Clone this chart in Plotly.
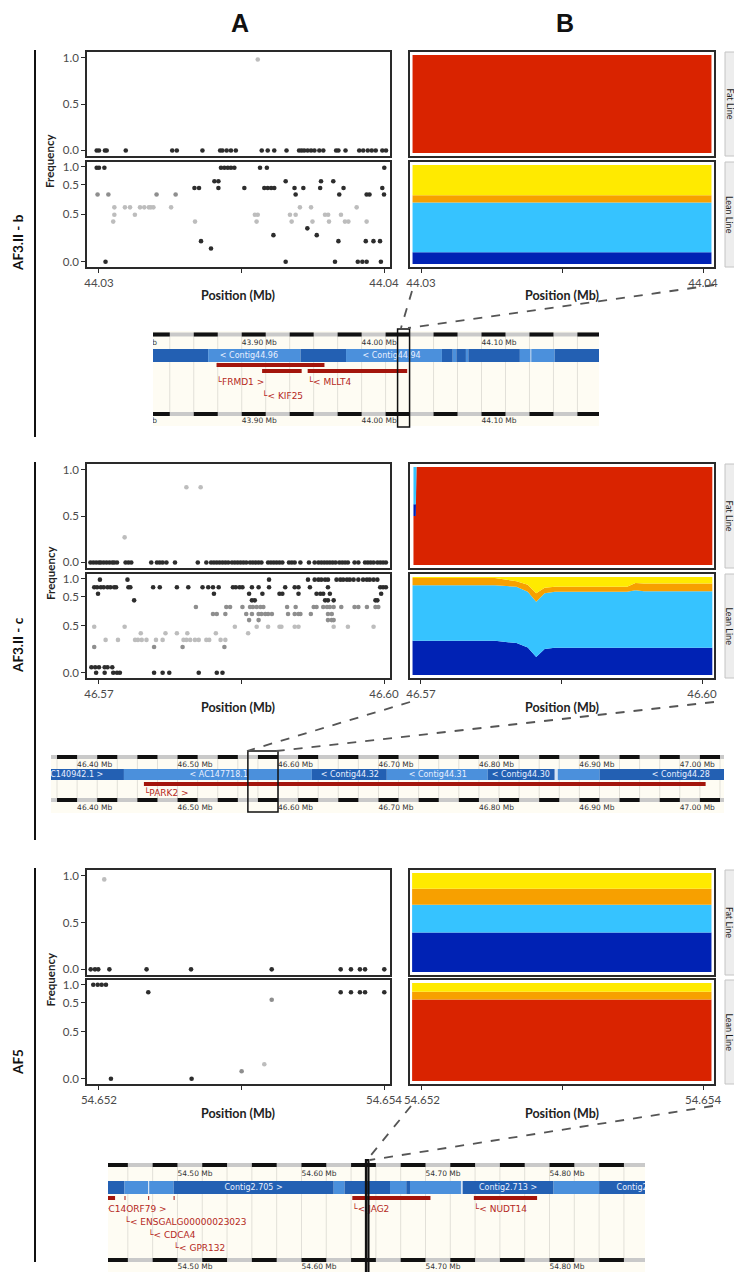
import plotly.graph_objects as go

W, H = 734, 1272

# ====================== DATA ======================
# Panel A: SNP allele frequency, grouped into rows of equal frequency.
# shade: 0 = dark, 1 = mid grey, 2 = light grey
s1_fat_levels = [0.0, 0.98]
s1_fat_shades = [0, 2]
s1_fat_pos = [
    [44.02992, 44.03000, 44.03021, 44.03027, 44.03094, 44.03257, 44.03273, 44.03363,
     44.03425, 44.03433, 44.03448, 44.03463, 44.03480, 44.03571, 44.03592, 44.03615,
     44.03658, 44.03702, 44.03711, 44.03720, 44.03732, 44.03744, 44.03756, 44.03773,
     44.03787, 44.03832, 44.03840, 44.03865, 44.03913, 44.03927, 44.03943, 44.03957,
     44.03971, 44.03994, 44.04007],
    [44.03557]]

s1_lean_levels = [0.99, 0.847, 0.776, 0.708, 0.708, 0.573, 0.495, 0.423, 0.352, 0.28, 0.217, 0.139, 0.0]
s1_lean_shades = [0, 0, 0, 0, 1, 2, 2, 2, 0, 0, 0, 0, 0]
s1_lean_pos = [
    [44.02992, 44.03000, 44.03019, 44.03428, 44.03440, 44.03452, 44.03463, 44.03475, 44.03565, 44.03589, 44.04001],
    [44.03405, 44.03419, 44.03655, 44.03779, 44.03822],
    [44.03335, 44.03351, 44.03419, 44.03510, 44.03580, 44.03592, 44.03604, 44.03615, 44.03686, 44.03717,
     44.03776, 44.03858, 44.03994],
    [44.03690, 44.03843, 44.03939, 44.03949, 44.04000],
    [44.02995, 44.03033, 44.03202, 44.03269],
    [44.03054, 44.03091, 44.03109, 44.03144, 44.03159, 44.03175, 44.03182, 44.03191, 44.03253, 44.03705,
     44.03744, 44.03904],
    [44.03054, 44.03126, 44.03547, 44.03557, 44.03670, 44.03690, 44.03793, 44.03804, 44.03849],
    [44.03050, 44.03337, 44.03553, 44.03676, 44.03749, 44.03807, 44.03863, 44.03875, 44.03939],
    [44.03731],
    [44.03612, 44.03764],
    [44.03358, 44.03840, 44.03936, 44.03963, 44.03986],
    [44.03393],
    [44.03023, 44.03655, 44.03828, 44.03908, 44.03924, 44.03939, 44.03989]]

s2_fat_levels = [0.0, 0.27, 0.81]
s2_fat_shades = [0, 2, 2]
s2_fat_pos = [
    [46.5691, 46.5694, 46.5697, 46.5700, 46.5702, 46.5705, 46.5708, 46.5711, 46.5714, 46.5716, 46.5719,
     46.5728, 46.5731, 46.5734, 46.5755, 46.5761, 46.5764, 46.5767, 46.5771, 46.5780, 46.5804, 46.5813,
     46.5818, 46.5821, 46.5824, 46.5827, 46.5830, 46.5833, 46.5836, 46.5840, 46.5843, 46.5846, 46.5849,
     46.5852, 46.5855, 46.5859, 46.5862, 46.5865, 46.5868, 46.5871, 46.5878, 46.5881, 46.5884, 46.5887,
     46.5890, 46.5893, 46.5900, 46.5903, 46.5906, 46.5912, 46.5921, 46.5927, 46.5931, 46.5934, 46.5937,
     46.5940, 46.5943, 46.5946, 46.5949, 46.5953, 46.5956, 46.5959, 46.5962, 46.5969, 46.5973, 46.5980,
     46.5983, 46.5986, 46.5989, 46.5993, 46.5996, 46.5999, 46.6002],
    [46.5727],
    [46.5792, 46.5807]]

s2_lean_levels = [0.99, 0.91, 0.84, 0.77, 0.70, 0.625, 0.56, 0.49, 0.42, 0.35, 0.275, 0.06, 0.0]
s2_lean_shades = [0, 0, 0, 0, 1, 1, 1, 2, 2, 2, 1, 0, 0]
s2_lean_pos = [
    [46.5701, 46.5730, 46.5879, 46.5920, 46.5927, 46.5931, 46.5934, 46.5938, 46.5941, 46.5950, 46.5954,
     46.5957, 46.5961, 46.5964, 46.5968, 46.5973, 46.5978, 46.5982, 46.5985, 46.5989, 46.5993],
    [46.5695, 46.5698, 46.5702, 46.5705, 46.5709, 46.5712, 46.5716, 46.5718, 46.5731, 46.5733, 46.5757,
     46.5764, 46.5782, 46.5794, 46.5809, 46.5815, 46.5820, 46.5826, 46.5841, 46.5844, 46.5848, 46.5851,
     46.5861, 46.5868, 46.5879, 46.5896, 46.5906, 46.5910, 46.5922, 46.5941, 46.5996, 46.5999, 46.6002],
    [46.5699, 46.5821, 46.5858, 46.5872, 46.5890, 46.5893, 46.5910, 46.5929, 46.5933, 46.5936, 46.5943, 46.5997],
    [46.5737, 46.5861, 46.5864, 46.5938, 46.5941, 46.5947, 46.5991, 46.5993],
    [46.5802, 46.5834, 46.5838, 46.5851, 46.5859, 46.5862, 46.5866, 46.5870, 46.5873, 46.5898, 46.5907,
     46.5926, 46.5929, 46.5936, 46.5940, 46.5943, 46.5947, 46.5955, 46.5969, 46.5973, 46.5982, 46.5991, 46.5994],
    [46.5820, 46.5824, 46.5833, 46.5855, 46.5861, 46.5868, 46.5871, 46.5875, 46.5878, 46.5882, 46.5899,
     46.5906, 46.5910, 46.5912, 46.5923, 46.5941, 46.5945],
    [46.5858, 46.5868, 46.5941, 46.5945, 46.5947],
    [46.5695, 46.5727, 46.5843, 46.5866, 46.5878, 46.5890, 46.5892, 46.5906, 46.5910, 46.5947, 46.5962, 46.5989],
    [46.5744, 46.5770, 46.5782, 46.5793, 46.5823, 46.5857],
    [46.5707, 46.5720, 46.5738, 46.5741, 46.5745, 46.5750, 46.5760, 46.5767, 46.5789, 46.5792, 46.5796,
     46.5801, 46.5805, 46.5813, 46.5816, 46.5828, 46.5833],
    [46.5695, 46.5758, 46.5788, 46.5832],
    [46.5692, 46.5696, 46.5700, 46.5706, 46.5709, 46.5714],
    [46.5697, 46.5706, 46.5715, 46.5719, 46.5722, 46.5758, 46.5767, 46.5774, 46.5805, 46.5824, 46.5830]]

s3_fat_levels = [0.0, 0.96]
s3_fat_shades = [0, 2]
s3_fat_pos = [
    [54.651942, 54.651972, 54.651995, 54.652073, 54.652334, 54.652646, 54.653212, 54.653696,
     54.653768, 54.653831, 54.653867, 54.654002],
    [54.652037]]

s3_lean_levels = [1.0, 0.92, 0.84, 0.155, 0.08, 0.0]
s3_lean_shades = [0, 0, 1, 2, 1, 0]
s3_lean_pos = [
    [54.651960, 54.651991, 54.652019, 54.652049],
    [54.652346, 54.653696, 54.653768, 54.653831, 54.653867, 54.654002],
    [54.653212],
    [54.653160],
    [54.653001],
    [54.652084, 54.652650]]

# Panel B: ancestry proportions, components stacked bottom -> top
components = ["red", "dark blue", "light blue", "orange", "yellow"]
s1_b_pos = [44.0297, 44.0403]
s1_fat_mix = [[1, 1], [0, 0], [0, 0], [0, 0], [0, 0]]
s1_lean_mix = [[0, 0], [0.118, 0.118], [0.502, 0.502], [0.074, 0.074], [0.306, 0.306]]

s2_b_pos_fat = [46.5692, 46.56945, 46.56952, 46.6011]
s2_fat_mix = [[0.50, 0.50, 1, 1], [0.12, 0.12, 0, 0], [0.38, 0.38, 0, 0], [0, 0, 0, 0], [0, 0, 0, 0]]
s2_b_pos_lean = [46.5691, 46.5779, 46.5802, 46.5814, 46.5823, 46.5832, 46.5843, 46.5920, 46.5929, 46.5938, 46.6011]
s2_lean_mix = [
    [0, 0, 0, 0, 0, 0, 0, 0, 0, 0, 0],
    [0.349, 0.349, 0.326, 0.280, 0.183, 0.265, 0.278, 0.278, 0.278, 0.278, 0.278],
    [0.567, 0.567, 0.573, 0.570, 0.563, 0.570, 0.570, 0.570, 0.587, 0.577, 0.577],
    [0.074, 0.074, 0.058, 0.070, 0.089, 0.055, 0.051, 0.051, 0.074, 0.078, 0.078],
    [0.010, 0.010, 0.043, 0.080, 0.165, 0.110, 0.101, 0.101, 0.061, 0.067, 0.067]]

s3_b_pos = [54.65193, 54.65406]
s3_fat_mix = [[0, 0], [0.40, 0.40], [0.28, 0.28], [0.16, 0.16], [0.16, 0.16]]
s3_lean_mix = [[0.83, 0.83], [0, 0], [0, 0], [0.08, 0.08], [0.09, 0.09]]

# Genome browser strips
st1_range = [43.826, 44.198]
st1_ticks = [43.80, 43.90, 44.00, 44.10, 44.20]
st1_contig_start = [43.8200, 43.872, 43.949, 43.987, 44.067, 44.076, 44.079, 44.087, 44.089, 44.132, 44.141, 44.1415, 44.161]
st1_contig_end = [43.872, 43.949, 43.987, 44.067, 44.076, 44.079, 44.087, 44.089, 44.132, 44.141, 44.1415, 44.161, 44.205]
st1_contig_shade = [0, 1, 0, 1, 0, 1, 0, 1, 0, 1, 2, 1, 0]
st1_contig_labels = ["< Contig44.96", "< Contig44.94"]
st1_contig_label_pos = [43.906, 44.025]
st1_gene_names = ["FRMD1 >", "< KIF25", "< MLLT4"]
st1_gene_start = [43.879, 43.917, 43.955]
st1_gene_end = [43.969, 43.950, 44.038]
st1_gene_track = [0, 1, 1]
st1_gene_label_row = [0, 1, 0]
st1_focus = [44.03, 44.04]

st2_range = [46.374, 47.044]
st2_ticks = [46.40, 46.50, 46.60, 46.70, 46.80, 46.90, 47.00]
st2_contig_start = [46.370, 46.4466, 46.6337, 46.7083, 46.8088, 46.8755, 46.8785, 46.9203]
st2_contig_end = [46.4466, 46.6337, 46.7083, 46.8088, 46.8755, 46.8785, 46.9203, 47.050]
st2_contig_shade = [0, 1, 0, 1, 0, 2, 1, 0]
st2_contig_labels = ["AC140942.1 >", "< AC147718.1", "< Contig44.32", "< Contig44.31", "< Contig44.30", "< Contig44.28"]
st2_contig_label_pos = [46.397, 46.541, 46.6715, 46.759, 46.8417, 47.001]
st2_gene_names = ["PARK2 >"]
st2_gene_start = [46.4665]
st2_gene_end = [47.0257]
st2_gene_track = [0]
st2_gene_label_row = [0]
st2_focus = [46.57, 46.60]

st3_range = [54.444, 54.877]
st3_ticks = [54.50, 54.60, 54.70, 54.80]
st3_contig_start = [54.440, 54.4573, 54.4764, 54.4772, 54.4969, 54.626, 54.6347, 54.6714, 54.6845, 54.6875, 54.7286, 54.7300, 54.8033, 54.840]
st3_contig_end = [54.4573, 54.4764, 54.4772, 54.4969, 54.626, 54.6347, 54.6714, 54.6845, 54.6875, 54.7286, 54.7300, 54.8033, 54.840, 54.885]
st3_contig_shade = [0, 1, 2, 1, 0, 1, 0, 1, 0, 1, 2, 0, 1, 0]
st3_contig_labels = ["Contig2.705 >", "Contig2.713 >", "Contig2.714 >"]
st3_contig_label_pos = [54.5614, 54.7666, 54.8775]
st3_gene_names = ["C14ORF79 >", "< ENSGALG00000023023", "< CDCA4", "< GPR132", "< JAG2", "< NUDT14"]
st3_gene_start = [54.4400, 54.4573, 54.4764, 54.4969, 54.641, 54.739]
st3_gene_end = [54.4497, 54.4581, 54.4772, 54.4977, 54.704, 54.790]
st3_gene_track = [0, 0, 0, 0, 0, 0]
st3_gene_label_row = [0, 1, 2, 3, 0, 0]
st3_focus = [54.652, 54.654]

# ====================== STYLE / LAYOUT ======================
SHADE = ["#2d2d2d", "#8e8e8e", "#bdbdbd"]
COMP = ["#d92300", "#0022b4", "#36c3ff", "#f7a000", "#ffea00"]
CONTIG = ["#2360b3", "#4b90dc", "#d4e3f6"]
GENE = "#a3150c"
GENE_TXT = "#b5281c"
FONT = "Lato, Open Sans, sans-serif"

fig = go.Figure()
layout = dict(width=W, height=H, margin=dict(l=0, r=0, t=0, b=0, pad=0, autoexpand=False),
              paper_bgcolor="white", plot_bgcolor="white", showlegend=False,
              font=dict(family=FONT, size=11, color="#333"))
shapes, annotations = [], []
n_ax = [0]


def clamp(v):
    return max(0.0, min(1.0, v))


def add_axes(box, xr, yr, panel=True, xt=None, yt=None):
    n_ax[0] += 1
    s = "" if n_ax[0] == 1 else str(n_ax[0])
    x0, x1, y0, y1 = box
    xa = dict(domain=[clamp(x0 / W), clamp(x1 / W)], range=xr, anchor="y" + s,
              showgrid=False, zeroline=False, fixedrange=True, automargin=False)
    ya = dict(domain=[clamp(1 - y1 / H), clamp(1 - y0 / H)], range=yr, anchor="x" + s,
              showgrid=False, zeroline=False, fixedrange=True, automargin=False)
    if panel:
        for a, t in ((xa, xt), (ya, yt)):
            a.update(showline=True, mirror=True, linecolor="#2a2a2a", linewidth=1.6)
            if t:
                a.update(tickmode="array", tickvals=t[0], ticktext=t[1], ticks="outside",
                         ticklen=4, tickwidth=1.3, tickcolor="#2a2a2a",
                         tickfont=dict(family=FONT, size=11.5, color="#4a4a4a"))
            else:
                a.update(showticklabels=False, ticks="")
    else:
        xa["visible"] = False
        ya["visible"] = False
    layout["xaxis" + s] = xa
    layout["yaxis" + s] = ya
    return "x" + s, "y" + s


def scatter_rows(levels, shades, pos, xa, ya):
    for lv, sh, xs in zip(levels, shades, pos):
        fig.add_trace(go.Scatter(x=xs, y=[lv] * len(xs), mode="markers",
                                 marker=dict(size=4.6, color=SHADE[sh], line=dict(width=0)),
                                 xaxis=xa, yaxis=ya, hoverinfo="skip"))


def stack(pos, mix, xa, ya, sg):
    for k in range(len(components)):
        fig.add_trace(go.Scatter(x=pos, y=mix[k], stackgroup=sg, mode="none",
                                 fillcolor=COMP[k], line=dict(width=0),
                                 xaxis=xa, yaxis=ya, hoverinfo="skip"))


def paper_line(x0, y0, x1, y1, color="#111", width=2, dash=None):
    d = dict(type="line", xref="paper", yref="paper", x0=x0 / W, y0=1 - y0 / H,
             x1=x1 / W, y1=1 - y1 / H, line=dict(color=color, width=width))
    if dash:
        d["line"]["dash"] = dash
    shapes.append(d)


def text(x, y, s, size=11, bold=False, angle=0, color="#222", family=FONT):
    annotations.append(dict(xref="paper", yref="paper", x=x / W, y=1 - y / H,
                            text=("<b>%s</b>" % s) if bold else s, showarrow=False,
                            textangle=angle, xanchor="center", yanchor="middle",
                            font=dict(family=family, size=size, color=color)))


A_X = (87, 390)
B_X = (410, 714)
FAT_YR = [-0.06, 1.06]
LEAN_YR = [-0.055, 1.05]
B_YR = [-0.03, 1.03]


def draw_section(ys, a_xr, b_xr, xt, fat, lean, bfat, blean, sg):
    (fy0, fy1), (ly0, ly1) = ys
    fat_yt = ([0, 0.5, 1.0], ["0.0", "0.5", "1.0"])
    lean_yt = ([0, 0.5, 0.81, 1.0], ["0.0", "0.5", "0.5", "1.0"])
    xa, ya = add_axes((A_X[0], A_X[1], fy0, fy1), a_xr, FAT_YR, yt=fat_yt)
    scatter_rows(*fat, xa, ya)
    xa, ya = add_axes((A_X[0], A_X[1], ly0, ly1), a_xr, LEAN_YR, xt=xt, yt=lean_yt)
    scatter_rows(*lean, xa, ya)
    xa, ya = add_axes((B_X[0], B_X[1], fy0, fy1), b_xr, B_YR)
    stack(bfat[0], bfat[1], xa, ya, sg + "f")
    xa, ya = add_axes((B_X[0], B_X[1], ly0, ly1), b_xr, B_YR, xt=xt)
    stack(blean[0], blean[1], xa, ya, sg + "l")
    # facet strips
    for (y0, y1), lab in (((fy0, fy1), "Fat Line"), ((ly0, ly1), "Lean Line")):
        shapes.append(dict(type="rect", xref="paper", yref="paper", x0=725 / W, x1=750 / W,
                           y0=1 - y1 / H, y1=1 - y0 / H, fillcolor="#ededed",
                           line=dict(color="#c4c4c4", width=1)))
        text(729.5, (y0 + y1) / 2, lab, size=9, angle=90, color="#1a1a1a")
    # axis titles
    text(238, ly1 + 29, "Position (Mb)", size=12.5, bold=True)
    text(562, ly1 + 29, "Position (Mb)", size=12.5, bold=True)
    text(50, (fy1 + ly0) / 2 + 2, "Frequency", size=11.5, bold=True, angle=-90)


def draw_strip(box, rng, Y, cs, ce, csh, clab, clabpos, gs, ge, gtrack, gname, glrow, ticks, phase, focus, fw):
    xa, ya = add_axes(box, rng, [box[3], box[2]], panel=False)
    ref = dict(xref=xa, yref=ya)
    shapes.append(dict(type="rect", **ref, x0=rng[0] - 0.01, x1=rng[1] + 0.01, y0=Y["bg"][0], y1=Y["bg"][1],
                       fillcolor="#fefcf3", line=dict(width=0), layer="below"))
    # gridlines
    g = phase
    while g < rng[1] + 0.02:
        shapes.append(dict(type="line", **ref, x0=g, x1=g, y0=Y["ruler"][0], y1=Y["ruler"][1],
                           line=dict(color="#e2e0d8", width=1), layer="below"))
        g = round(g + 0.02, 4)
    # rulers
    for ry in Y["ruler"]:
        shapes.append(dict(type="rect", **ref, x0=rng[0] - 0.01, x1=rng[1] + 0.01, y0=ry - 2, y1=ry + 2,
                           fillcolor="#c9c9c9", line=dict(width=0), layer="below"))
        g = phase
        while g < rng[1] + 0.02:
            shapes.append(dict(type="rect", **ref, x0=g, x1=g + 0.02, y0=ry - 2, y1=ry + 2,
                               fillcolor="#111111", line=dict(width=0), layer="below"))
            g = round(g + 0.04, 4)
    for ly in Y["labs"]:
        fig.add_trace(go.Scatter(x=ticks, y=[ly] * len(ticks), mode="text",
                                 text=["%.2f Mb" % t for t in ticks], textposition="middle right",
                                 textfont=dict(family="DejaVu Sans", size=7.5, color="#333"),
                                 cliponaxis=True, xaxis=xa, yaxis=ya, hoverinfo="skip"))
    # contigs
    for s0, s1, sh in zip(cs, ce, csh):
        shapes.append(dict(type="rect", **ref, x0=s0, x1=s1, y0=Y["contig"][0], y1=Y["contig"][1],
                           fillcolor=CONTIG[sh], line=dict(width=0), layer="below"))
    cy = (Y["contig"][0] + Y["contig"][1]) / 2
    fig.add_trace(go.Scatter(x=clabpos, y=[cy] * len(clabpos), mode="text", text=clab,
                             textposition="middle center",
                             textfont=dict(family="DejaVu Sans", size=8, color="#e8efff"),
                             cliponaxis=True, xaxis=xa, yaxis=ya, hoverinfo="skip"))
    # genes
    for g0, g1, tr in zip(gs, ge, gtrack):
        y0, y1 = Y["genes"][tr]
        shapes.append(dict(type="rect", **ref, x0=g0, x1=g1, y0=y0, y1=y1,
                           fillcolor=GENE, line=dict(width=0), layer="below"))
    fig.add_trace(go.Scatter(x=gs, y=[Y["glabels"][r] for r in glrow], mode="text",
                             text=["\u2514" + n for n in gname], textposition="middle right",
                             textfont=dict(family="DejaVu Sans", size=9, color=GENE_TXT),
                             cliponaxis=True, xaxis=xa, yaxis=ya, hoverinfo="skip"))
    # focus window
    shapes.append(dict(type="rect", **ref, x0=focus[0], x1=focus[1], y0=Y["focus"][0], y1=Y["focus"][1],
                       fillcolor="rgba(0,0,0,0)", line=dict(color="#111", width=fw)))


# ---------- header ----------
text(240, 23, "A", size=25, bold=True, color="#111", family="Liberation Sans, Arial, sans-serif")
text(565, 23, "B", size=25, bold=True, color="#111", family="Liberation Sans, Arial, sans-serif")

# ---------- section 1 ----------
draw_section(((52, 156), (162, 267)), [44.02958, 44.04021], [44.02961, 44.04039],
             ([44.03, 44.035, 44.04], ["44.03", "", "44.04"]),
             (s1_fat_levels, s1_fat_shades, s1_fat_pos), (s1_lean_levels, s1_lean_shades, s1_lean_pos),
             (s1_b_pos, s1_fat_mix), (s1_b_pos, s1_lean_mix), "s1")
draw_strip((153, 599, 327, 430), st1_range,
           dict(bg=(331, 426), ruler=(334.5, 414), labs=(343, 421.5), contig=(349, 362),
                genes=[(363, 367), (369, 373)], glabels=[383, 397], focus=(329, 427)),
           st1_contig_start, st1_contig_end, st1_contig_shade, st1_contig_labels, st1_contig_label_pos,
           st1_gene_start, st1_gene_end, st1_gene_track, st1_gene_names, st1_gene_label_row,
           st1_ticks, 43.82, st1_focus, 1.5)
text(18, 243, "AF3.II - b", size=13.5, bold=True, angle=-90, color="#111")
paper_line(35, 50, 35, 437)
paper_line(412, 291, 401, 328, color="#555", width=1.8, dash="dash")
paper_line(714, 285, 408, 328, color="#555", width=1.8, dash="dash")

# ---------- section 2 ----------
draw_section(((464, 568), (574, 678)), [46.56874, 46.60063], [46.56883, 46.60128],
             ([46.57, 46.585, 46.60], ["46.57", "", "46.60"]),
             (s2_fat_levels, s2_fat_shades, s2_fat_pos), (s2_lean_levels, s2_lean_shades, s2_lean_pos),
             (s2_b_pos_fat, s2_fat_mix), (s2_b_pos_lean, s2_lean_mix), "s2")
draw_strip((51, 724, 749, 814), st2_range,
           dict(bg=(755, 813), ruler=(757, 800), labs=(765, 808), contig=(769, 780),
                genes=[(782, 786)], glabels=[794], focus=(751, 812)),
           st2_contig_start, st2_contig_end, st2_contig_shade, st2_contig_labels, st2_contig_label_pos,
           st2_gene_start, st2_gene_end, st2_gene_track, st2_gene_names, st2_gene_label_row,
           st2_ticks, 46.38, st2_focus, 1.5)
text(18, 645, "AF3.II - c", size=13.5, bold=True, angle=-90, color="#111")
paper_line(35, 462, 35, 840)
paper_line(410, 702, 247, 751, color="#555", width=1.8, dash="dash")
paper_line(714, 702, 276, 751, color="#555", width=1.8, dash="dash")

# ---------- section 3 ----------
draw_section(((870, 975), (980, 1084)), [54.651916, 54.654042], [54.651915, 54.654078],
             ([54.652, 54.653, 54.654], ["54.652", "", "54.654"]),
             (s3_fat_levels, s3_fat_shades, s3_fat_pos), (s3_lean_levels, s3_lean_shades, s3_lean_pos),
             (s3_b_pos, s3_fat_mix), (s3_b_pos, s3_lean_mix), "s3")
draw_strip((108, 645, 1158, 1272), st3_range,
           dict(bg=(1163, 1272), ruler=(1165, 1260), labs=(1174, 1267), contig=(1181, 1194),
                genes=[(1196, 1200)], glabels=[1210, 1223, 1236, 1249], focus=(1160, 1290)),
           st3_contig_start, st3_contig_end, st3_contig_shade, st3_contig_labels, st3_contig_label_pos,
           st3_gene_start, st3_gene_end, st3_gene_track, st3_gene_names, st3_gene_label_row,
           st3_ticks, 54.44, st3_focus, 2.2)
text(18, 1062, "AF5", size=13.5, bold=True, angle=-90, color="#111")
paper_line(35, 868, 35, 1262)
paper_line(411, 1106, 367, 1160, color="#555", width=1.8, dash="dash")
paper_line(713, 1106, 370, 1160, color="#555", width=1.8, dash="dash")

layout["shapes"] = shapes
layout["annotations"] = annotations
fig.update_layout(**layout)
fig.write_html("out.html", config={"displayModeBar": False},
               post_script="document.body.style.margin='0';document.body.style.overflow='hidden';")
